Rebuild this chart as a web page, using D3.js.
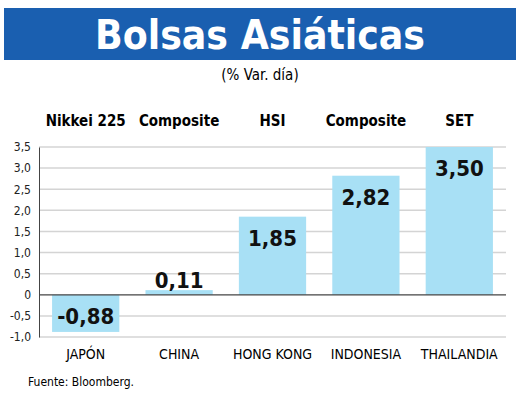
<!DOCTYPE html>
<html><head><meta charset="utf-8">
<script src="https://cdn.jsdelivr.net/npm/d3@7"></script>
<style>body{margin:0;background:#fff}text{font-family:"Liberation Sans Narrow","DejaVu Sans Condensed",sans-serif}</style>
</head><body><div id="chart"></div>
<script>
const countries = ["JAPÓN","CHINA","HONG KONG","INDONESIA","THAILANDIA"]
const indices = ["Nikkei 225","Composite","HSI","Composite","SET"]
const values = [-0.88, 0.11, 1.85, 2.82, 3.50]
const yTicks = [-1, -0.5, 0, 0.5, 1, 1.5, 2, 2.5, 3, 3.5]

const width = 520, height = 412
const svg = d3.select("#chart").append("svg").attr("width", width).attr("height", height)

svg.append("rect").attr("x", 4).attr("y", 8).attr("width", 512).attr("height", 52).attr("fill", "#1a5fb0")
svg.append("text").attr("x", 260).attr("y", 49).attr("text-anchor", "middle").attr("fill", "#fff")
  .attr("font-size", 40).attr("font-weight", "bold").attr("textLength", 330).attr("lengthAdjust", "spacingAndGlyphs")
  .text("Bolsas Asiáticas")
svg.append("text").attr("x", 260).attr("y", 80).attr("text-anchor", "middle")
  .attr("font-size", 15).text("(% Var. día)")

const x = d3.scaleBand().domain(countries).range([39, 506]).paddingInner(0.28).paddingOuter(0.14)
const y = d3.scaleLinear().domain([-1, 3.5]).range([337, 147])

svg.append("g").selectAll("line").data(yTicks.filter(d => d != 0)).join("line")
  .attr("x1", 39).attr("x2", 506).attr("y1", d => y(d)).attr("y2", d => y(d))
  .attr("stroke", "#d4d4d4").attr("stroke-width", 1.5)

const fmt = d => d == 0 ? "0" : d.toFixed(1).replace(".", ",")
svg.append("g").attr("transform", "translate(39,0)")
  .call(d3.axisLeft(y).tickValues(yTicks).tickFormat(fmt).tickSize(0).tickPadding(8))
  .call(g => g.select(".domain").attr("stroke", "#444"))
  .call(g => g.selectAll("text").attr("font-size", 12).attr("fill", "#222"))

svg.append("g").selectAll("rect").data(values).join("rect")
  .attr("x", (d, i) => x(countries[i])).attr("width", x.bandwidth())
  .attr("y", d => y(Math.max(0, d))).attr("height", d => Math.abs(y(d) - y(0)))
  .attr("fill", "#a8e0f5")

svg.append("line").attr("x1", 39).attr("x2", 506).attr("y1", y(0)).attr("y2", y(0)).attr("stroke", "#444").attr("stroke-width", 1.2)

svg.append("g").selectAll("text").data(values).join("text")
  .attr("x", (d, i) => x(countries[i]) + x.bandwidth() / 2)
  .attr("y", d => d < 0 ? y(0) + 29 : (d < 0.5 ? y(d) - 2 : y(d) + 29))
  .attr("text-anchor", "middle").attr("font-size", 22).attr("font-weight", "bold").attr("fill", "#111")
  .text(d => d.toFixed(2).replace(".", ","))

svg.append("g").selectAll("text").data(indices).join("text")
  .attr("x", (d, i) => x(countries[i]) + x.bandwidth() / 2).attr("y", 126)
  .attr("text-anchor", "middle").attr("font-size", 15).attr("font-weight", "bold").text(d => d)

svg.append("g").selectAll("text").data(countries).join("text")
  .attr("x", d => x(d) + x.bandwidth() / 2).attr("y", 359)
  .attr("text-anchor", "middle").attr("font-size", 14).text(d => d)

svg.append("text").attr("x", 28).attr("y", 386).attr("font-size", 12).text("Fuente: Bloomberg.")
</script></body></html>
